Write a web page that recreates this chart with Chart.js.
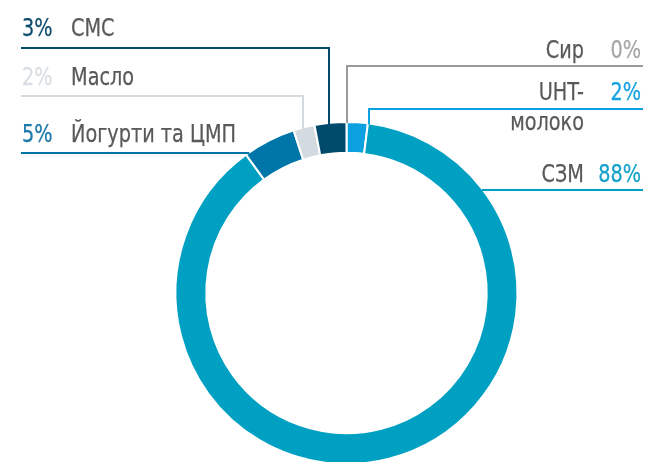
<!DOCTYPE html>
<html>
<head>
<meta charset="utf-8">
<script src="https://cdn.jsdelivr.net/npm/chart.js@4/dist/chart.umd.min.js"></script>
<style>
  html, body { margin: 0; padding: 0; background: #ffffff; overflow: hidden; }
  #wrap { width: 646px; height: 462px; overflow: hidden; position: relative; }
  canvas { display: block; }
</style>
</head>
<body>
<div id="wrap"><canvas id="c" width="646" height="470"></canvas></div>
<script>
// ---- data ----
const categories = ['Сир', 'UHT-молоко', 'СЗМ', 'Йогурти та ЦМП', 'Масло', 'СМС'];
const shares = [0, 2, 88, 5, 2, 3];
const sliceColors = ['#9a9a9a', '#0ba0e0', '#00a0c2', '#0076a8', '#d3dae0', '#004b6c'];
const pctColors   = ['#a6a6a6', '#14a2e2', '#14a2c8', '#1a78aa', '#d8dee3', '#0e4d6e'];

// ---- label layout (positions only, no data) ----
const FONT = '"DejaVu Sans Condensed", "DejaVu Sans", sans-serif';
const FONT_SIZE = 25.5;
const SX = 0.84; // horizontal condensing
const labelLayout = [
  { side: 'right', lineY: 66, textY: 58, anchorX: 347, vertical: true, lines: ['Сир'] },
  { side: 'right', lineY: 109, textY: 100, anchorX: 369, vertical: true, lines: ['UHT-', 'молоко'] },
  { side: 'right', lineY: 190, textY: 182, vertical: false, lines: ['СЗМ'] },
  { side: 'left', lineY: 153, textY: 142, vertical: false, lines: ['Йогурти та ЦМП'] },
  { side: 'left', lineY: 96, textY: 85, anchorX: 303, vertical: true, lines: ['Масло'] },
  { side: 'left', lineY: 48, textY: 36, anchorX: 329, vertical: true, lines: ['СМС'] }
];

function drawText(ctx, txt, x, y, align, color) {
  ctx.save();
  ctx.translate(x, y);
  ctx.scale(SX, 1);
  ctx.font = FONT_SIZE + 'px ' + FONT;
  ctx.textAlign = align;
  ctx.textBaseline = 'alphabetic';
  ctx.fillStyle = color;
  ctx.strokeStyle = color;
  ctx.lineWidth = 0.25;
  ctx.fillText(txt, 0, 0);
  ctx.strokeText(txt, 0, 0);
  ctx.restore();
}

const leaderPlugin = {
  id: 'leaders',
  afterDraw(chart) {
    const ctx = chart.ctx;
    const arc = chart.getDatasetMeta(0).data[0];
    const cx = arc.x, cy = arc.y, R = arc.outerRadius;
    ctx.save();
    labelLayout.forEach((L, i) => {
      ctx.strokeStyle = sliceColors[i];
      ctx.lineWidth = 2;
      ctx.beginPath();
      const edgeX = L.side === 'left' ? 21 : 643;
      ctx.moveTo(edgeX, L.lineY);
      if (L.vertical) {
        const yRing = cy - Math.sqrt(R * R - (L.anchorX - cx) ** 2);
        ctx.lineTo(L.anchorX, L.lineY);
        ctx.lineTo(L.anchorX, yRing + 1);
      } else {
        const dx = Math.sqrt(R * R - (cy - L.lineY) ** 2);
        const xRing = L.side === 'left' ? cx - dx + 1 : cx + dx - 1;
        ctx.lineTo(xRing, L.lineY);
      }
      ctx.stroke();

      const pct = shares[i] + '%';
      if (L.side === 'left') {
        drawText(ctx, pct, 22, L.textY, 'left', pctColors[i]);
        drawText(ctx, L.lines[0], 71, L.textY, 'left', '#595959');
      } else {
        drawText(ctx, pct, 641, L.textY, 'right', pctColors[i]);
        drawText(ctx, L.lines[0], 584, L.textY, 'right', '#595959');
        if (L.lines[1]) drawText(ctx, L.lines[1], 584, L.textY + 30, 'right', '#595959');
      }
    });
    ctx.restore();
  }
};

new Chart(document.getElementById('c'), {
  type: 'doughnut',
  data: {
    labels: categories,
    datasets: [{
      data: shares,
      backgroundColor: sliceColors,
      borderColor: '#ffffff',
      borderWidth: 2,
      hoverOffset: 0
    }]
  },
  options: {
    responsive: false,
    animation: false,
    cutout: '82%',
    layout: { padding: { left: 174.5, right: 127.5, top: 121, bottom: 5 } },
    plugins: { legend: { display: false }, tooltip: { enabled: false } }
  },
  plugins: [leaderPlugin]
});
</script>
</body>
</html>
